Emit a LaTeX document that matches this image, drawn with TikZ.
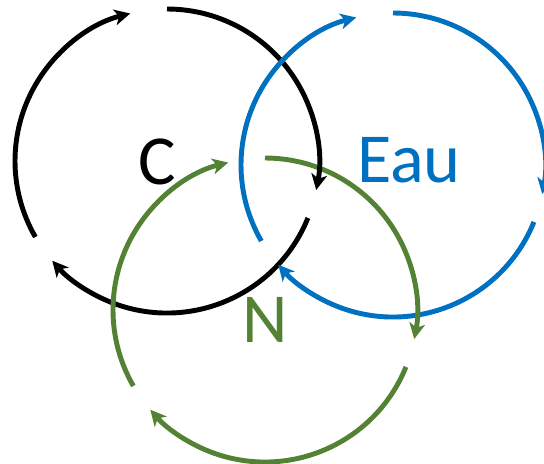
\documentclass[tikz,border=0pt]{standalone}
\usepackage{fontspec}
\setmainfont{Carlito}
\usetikzlibrary{arrows.meta, positioning, calc}
\definecolor{carbon}{HTML}{000000}
\definecolor{water}{HTML}{0070C0}
\definecolor{nitrogen}{HTML}{548235}

\begin{document}
\begin{tikzpicture}[
    >={Stealth[length=9pt, width=9pt, inset=2.5pt]},
    cyc/.style={->, line width=2.8pt},
    lbl/.style={font=\fontsize{40}{40}\selectfont, inner sep=0pt},
]
\useasboundingbox (0, 0) rectangle (10.88, 9.26);

\def\rad{3.04}

% ── one arc of a cycle: #1 colour, #2 centre, #3 start, #4 end ──
\newcommand{\cyclearc}[4]{
    \draw[cyc, #1] (#2) ++(#3:\rad) arc[start angle=#3, end angle=#4, radius=\rad];
}

\coordinate (cC) at (3.34, 6.04);
\coordinate (cEau) at (7.86, 5.96);
\coordinate (cN) at (5.30, 3.06);

% ── arcs, lower ones first ──
\cyclearc{carbon}{cC}{210}{104}
\cyclearc{carbon}{cC}{-22}{-139}
\cyclearc{water}{cEau}{-22}{-139}
\cyclearc{water}{cEau}{90}{-11}
\cyclearc{nitrogen}{cN}{210}{104}
\cyclearc{nitrogen}{cN}{90}{-11}
\cyclearc{nitrogen}{cN}{-22}{-139}
\cyclearc{carbon}{cC}{90}{-11}
\cyclearc{water}{cEau}{210}{104}

% ── labels ──
\node[lbl, text=carbon] (labC) at (3.14, 6.02) {C};
\node[lbl, text=water] (labEau) at (8.18, 6.06) {Eau};
\node[lbl, text=nitrogen] (labN) at (5.30, 2.86) {N};

\end{tikzpicture}
\end{document}
